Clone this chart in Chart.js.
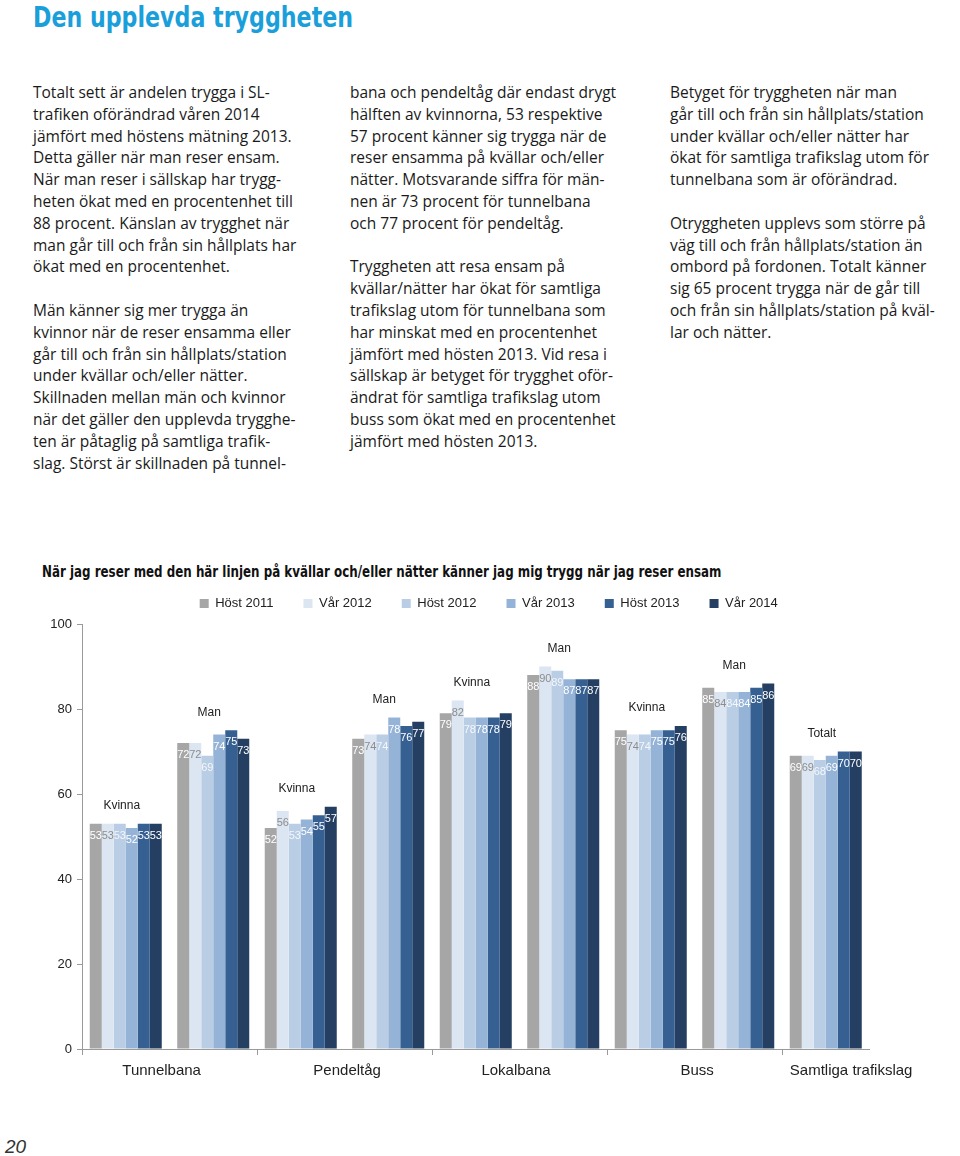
<!DOCTYPE html>
<html lang="sv">
<head>
<meta charset="utf-8">
<title>Den upplevda tryggheten</title>
<script src="https://cdn.jsdelivr.net/npm/chart.js@4.4.1/dist/chart.umd.min.js"></script>
<style>
  html, body { margin: 0; padding: 0; background: #fff; }
  body { position: relative; width: 960px; height: 1156px; overflow: hidden;
         font-family: "Open Sans", sans-serif; color: #1a1a1a; }
  h1 { position: absolute; left: 33px; top: 1px; margin: 0; font-weight: bold; font-size: 28px;
       font-family: "DejaVu Sans Condensed", sans-serif; color: #1a9fdb;
       transform: scaleX(0.88); transform-origin: left top; white-space: nowrap; }
  .col { position: absolute; top: 82px; width: 310px; font-size: 15.5px; line-height: 21.8px; }
  .col p { margin: 0 0 21.8px 0; }
  #c1 { left: 33px; } #c2 { left: 350px; } #c3 { left: 670px; }
  .ctitle { position: absolute; left: 42px; top: 563px; font-weight: bold; font-size: 15px;
            font-family: "DejaVu Sans Condensed", sans-serif; color: #111; white-space: nowrap;
            transform: scaleX(0.88); transform-origin: left top; }
  #chart { position: absolute; left: 0; top: 567px; }
  .page { position: absolute; left: 5px; top: 1136px; font: italic 19px "Liberation Sans", Arial, sans-serif; color: #333; }
</style>
</head>
<body>
<h1>Den upplevda tryggheten</h1>

<div class="col" id="c1">
<p>Totalt sett är andelen trygga i SL-<br>trafiken oförändrad våren 2014<br>jämfört med höstens mätning 2013.<br>Detta gäller när man reser ensam.<br>När man reser i sällskap har trygg-<br>heten ökat med en procentenhet till<br>88 procent. Känslan av trygghet när<br>man går till och från sin hållplats har<br>ökat med en procentenhet.</p>
<p>Män känner sig mer trygga än<br>kvinnor när de reser ensamma eller<br>går till och från sin hållplats/station<br>under kvällar och/eller nätter.<br>Skillnaden mellan män och kvinnor<br>när det gäller den upplevda trygghe-<br>ten är påtaglig på samtliga trafik-<br>slag. Störst är skillnaden på tunnel-</p>
</div>

<div class="col" id="c2">
<p>bana och pendeltåg där endast drygt<br>hälften av kvinnorna, 53 respektive<br>57 procent känner sig trygga när de<br>reser ensamma på kvällar och/eller<br>nätter. Motsvarande siffra för män-<br>nen är 73 procent för tunnelbana<br>och 77 procent för pendeltåg.</p>
<p>Tryggheten att resa ensam på<br>kvällar/nätter har ökat för samtliga<br>trafikslag utom för tunnelbana som<br>har minskat med en procentenhet<br>jämfört med hösten 2013. Vid resa i<br>sällskap är betyget för trygghet oför-<br>ändrat för samtliga trafikslag utom<br>buss som ökat med en procentenhet<br>jämfört med hösten 2013.</p>
</div>

<div class="col" id="c3">
<p>Betyget för tryggheten när man<br>går till och från sin hållplats/station<br>under kvällar och/eller nätter har<br>ökat för samtliga trafikslag utom för<br>tunnelbana som är oförändrad.</p>
<p>Otryggheten upplevs som större på<br>väg till och från hållplats/station än<br>ombord på fordonen. Totalt känner<br>sig 65 procent trygga när de går till<br>och från sin hållplats/station på kväl-<br>lar och nätter.</p>
</div>

<div class="ctitle">När jag reser med den här linjen på kvällar och/eller nätter känner jag mig trygg när jag reser ensam</div>

<canvas id="chart" width="960" height="512"></canvas>

<div class="page">20</div>

<script>
// grupper (x-axelns kategorier) och trafikslag under axeln
const groups = ['Kvinna', 'Man', 'Kvinna', 'Man', 'Kvinna', 'Man', 'Kvinna', 'Man', 'Totalt'];
const modes = ['Tunnelbana', 'Pendeltåg', 'Lokalbana', 'Buss', 'Samtliga trafikslag'];

// andel trygga (%) per mätning
const host2011 = [53, 72, 52, 73, 79, 88, 75, 85, 69];
const var2012  = [53, 72, 56, 74, 82, 90, 74, 84, 69];
const host2012 = [53, 69, 53, 74, 78, 89, 74, 84, 68];
const var2013  = [52, 74, 54, 78, 78, 87, 75, 84, 69];
const host2013 = [53, 75, 55, 76, 78, 87, 75, 85, 70];
const var2014  = [53, 73, 57, 77, 79, 87, 76, 86, 70];

const seriesNames = ['Höst 2011', 'Vår 2012', 'Höst 2012', 'Vår 2013', 'Höst 2013', 'Vår 2014'];
const seriesData = [host2011, var2012, host2012, var2013, host2013, var2014];

const BAR_COLORS = ['#a6a6a6', '#dce6f2', '#b9cde5', '#95b3d7', '#376092', '#243f61'];
const LABEL_COLORS = ['#ffffff', '#8c8c8c', '#f4f7fb', '#ffffff', '#ffffff', '#ffffff'];
const MODE_POS = [0.41, 2.53, 4.46, 6.53, 8.29]; // trafikslagens etiketter, i kategori-index
const FONT = '"Liberation Sans", Arial, sans-serif';

Chart.defaults.font.family = FONT;
Chart.defaults.color = '#222';

// legenden: fast höjd och lite förskjuten åt höger som i originalet
const legendTweak = {
    id: 'legendTweak',
    afterInit(chart) {
        const legend = chart.legend;
        const fit = legend.fit;
        legend.fit = function () {
            fit.call(this);
            this.height = 57;
        };
    },
    afterLayout(chart) {
        chart.legend.left += 54;
        chart.legend.right += 54;
    },
};

// siffror i staplarna, Kvinna/Man över grupperna och trafikslag under axeln
const barText = {
    id: 'barText',
    afterDatasetsDraw(chart) {
        const ctx = chart.ctx;
        const xs = chart.scales.x;
        const ys = chart.scales.y;
        ctx.save();
        ctx.textAlign = 'center';
        ctx.textBaseline = 'middle';

        ctx.font = '11px ' + FONT;
        chart.data.datasets.forEach((ds, di) => {
            ctx.fillStyle = LABEL_COLORS[di];
            chart.getDatasetMeta(di).data.forEach((bar, i) => {
                ctx.fillText(ds.data[i], bar.x, bar.y + 12);
            });
        });

        ctx.font = '12px ' + FONT;
        ctx.fillStyle = '#222';
        groups.forEach((g, i) => {
            const top = Math.max(...seriesData.map(s => s[i]));
            ctx.fillText(g, xs.getPixelForValue(i) - 4, ys.getPixelForValue(top) - 18);
        });

        ctx.font = '15px ' + FONT;
        modes.forEach((m, k) => {
            ctx.fillText(m, xs.getPixelForValue(MODE_POS[k]), chart.chartArea.bottom + 22);
        });
        ctx.restore();
    },
};

new Chart(document.getElementById('chart'), {
    type: 'bar',
    data: {
        labels: groups,
        datasets: seriesNames.map((name, i) => ({
            label: name,
            data: seriesData[i],
            backgroundColor: BAR_COLORS[i],
            borderWidth: 0,
            categoryPercentage: 0.823,
            barPercentage: 1.0,
        })),
    },
    options: {
        responsive: false,
        animation: false,
        layout: { padding: { left: 0, right: 90.5, top: 0, bottom: 0 } },
        plugins: {
            legend: {
                position: 'top',
                labels: { boxWidth: 9, boxHeight: 9, padding: 30, font: { size: 13 }, color: '#222' },
            },
            tooltip: { enabled: false },
            title: { display: false },
        },
        scales: {
            x: {
                afterFit(scale) { scale.height = 30; },
                ticks: { display: false },
                grid: {
                    offset: true,
                    drawOnChartArea: false,
                    tickLength: 6,
                    color: ctx => (ctx.index % 2 === 0 && ctx.index < 9 ? '#9a9a9a' : 'rgba(0,0,0,0)'),
                },
                border: { color: '#9a9a9a' },
            },
            y: {
                min: 0,
                max: 100,
                afterFit(scale) { scale.width = 82; },
                ticks: { stepSize: 20, padding: 5, font: { size: 13 }, color: '#222' },
                grid: { drawOnChartArea: false, tickLength: 5, color: '#9a9a9a' },
                border: { color: '#9a9a9a' },
            },
        },
    },
    plugins: [legendTweak, barText],
});
</script>
</body>
</html>
